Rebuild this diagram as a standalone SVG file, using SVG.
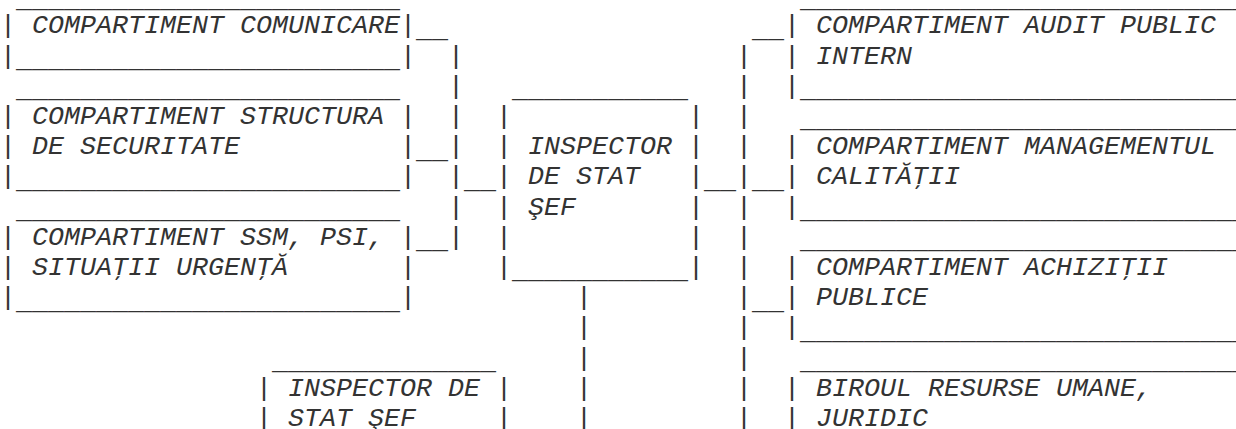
<svg xmlns="http://www.w3.org/2000/svg" width="1236" height="429" viewBox="0 0 1236 429" xml:space="preserve">
<style>
text { font-family: "Liberation Mono", "Courier New", monospace; font-size: 26.667px; fill: #333333; }
.l { font-style: italic; }
.u { transform: translate(0px, 3.5px); }
</style>
<rect width="1236" height="429" fill="#ffffff"/>
<g id="node-comunicare">
<text class="u" x="16" y="3.1">________________________</text>
<text x="0" y="33.3">|</text><text class="l" x="32" y="33.3">COMPARTIMENT COMUNICARE</text><text x="400" y="33.3">|</text>
<text x="0" y="63.5">|</text><text class="u" x="16" y="63.5">________________________</text><text x="400" y="63.5">|</text>
</g>
<g id="node-structura">
<text class="u" x="16" y="93.7">________________________</text>
<text x="0" y="123.9">|</text><text class="l" x="32" y="123.9">COMPARTIMENT STRUCTURA</text><text x="400" y="123.9">|</text>
<text x="0" y="154.1">|</text><text class="l" x="32" y="154.1">DE SECURITATE</text><text x="400" y="154.1">|</text>
<text x="0" y="184.3">|</text><text class="u" x="16" y="184.3">________________________</text><text x="400" y="184.3">|</text>
</g>
<g id="node-ssm">
<text class="u" x="16" y="214.5">________________________</text>
<text x="0" y="244.7">|</text><text class="l" x="32" y="244.7">COMPARTIMENT SSM, PSI,</text><text x="400" y="244.7">|</text>
<text x="0" y="274.9">|</text><text class="l" x="32" y="274.9">SITUAŢII URGENŢĂ</text><text x="400" y="274.9">|</text>
<text x="0" y="305.1">|</text><text class="u" x="16" y="305.1">________________________</text><text x="400" y="305.1">|</text>
</g>
<g id="node-inspector">
<text class="u" x="512" y="93.7">___________</text>
<text x="496" y="123.9">|</text><text x="688" y="123.9">|</text>
<text x="496" y="154.1">|</text><text class="l" x="528" y="154.1">INSPECTOR</text><text x="688" y="154.1">|</text>
<text x="496" y="184.3">|</text><text class="l" x="528" y="184.3">DE STAT</text><text x="688" y="184.3">|</text>
<text x="496" y="214.5">|</text><text class="l" x="528" y="214.5">ŞEF</text><text x="688" y="214.5">|</text>
<text x="496" y="244.7">|</text><text x="688" y="244.7">|</text>
<text x="496" y="274.9">|</text><text class="u" x="512" y="274.9">___________</text><text x="688" y="274.9">|</text>
</g>
<g id="node-inspector-2">
<text class="u" x="272" y="365.5">______________</text>
<text x="256" y="395.7">|</text><text class="l" x="288" y="395.7">INSPECTOR DE</text><text x="496" y="395.7">|</text>
<text x="256" y="425.9">|</text><text class="l" x="288" y="425.9">STAT ŞEF</text><text x="496" y="425.9">|</text>
</g>
<g id="node-audit">
<text class="u" x="800" y="3.1">____________________________</text>
<text x="784" y="33.3">|</text><text class="l" x="816" y="33.3">COMPARTIMENT AUDIT PUBLIC</text>
<text x="784" y="63.5">|</text><text class="l" x="816" y="63.5">INTERN</text>
<text x="784" y="93.7">|</text><text class="u" x="800" y="93.7">____________________________</text>
</g>
<g id="node-calitate">
<text class="u" x="800" y="123.9">____________________________</text>
<text x="784" y="154.1">|</text><text class="l" x="816" y="154.1">COMPARTIMENT MANAGEMENTUL</text>
<text x="784" y="184.3">|</text><text class="l" x="816" y="184.3">CALITĂŢII</text>
<text x="784" y="214.5">|</text><text class="u" x="800" y="214.5">____________________________</text>
</g>
<g id="node-achizitii">
<text class="u" x="800" y="244.7">____________________________</text>
<text x="784" y="274.9">|</text><text class="l" x="816" y="274.9">COMPARTIMENT ACHIZIŢII</text>
<text x="784" y="305.1">|</text><text class="l" x="816" y="305.1">PUBLICE</text>
<text x="784" y="335.3">|</text><text class="u" x="800" y="335.3">____________________________</text>
</g>
<g id="node-resurse">
<text class="u" x="800" y="365.5">____________________________</text>
<text x="784" y="395.7">|</text><text class="l" x="816" y="395.7">BIROUL RESURSE UMANE,</text>
<text x="784" y="425.9">|</text><text class="l" x="816" y="425.9">JURIDIC</text>
</g>
<g id="connectors">
<text class="u" x="416" y="33.3">__</text>
<text x="448" y="63.5">|</text>
<text x="448" y="93.7">|</text>
<text x="448" y="123.9">|</text>
<text class="u" x="416" y="154.1">__</text><text x="448" y="154.1">|</text>
<text x="448" y="184.3">|</text><text class="u" x="464" y="184.3">__</text>
<text x="448" y="214.5">|</text>
<text class="u" x="416" y="244.7">__</text><text x="448" y="244.7">|</text>
<text x="576" y="305.1">|</text>
<text x="576" y="335.3">|</text>
<text x="576" y="365.5">|</text>
<text x="576" y="395.7">|</text>
<text x="576" y="425.9">|</text>
<text class="u" x="752" y="33.3">__</text>
<text x="736" y="63.5">|</text>
<text x="736" y="93.7">|</text>
<text x="736" y="123.9">|</text>
<text x="736" y="154.1">|</text>
<text class="u" x="704" y="184.3">__</text><text x="736" y="184.3">|</text><text class="u" x="752" y="184.3">__</text>
<text x="736" y="214.5">|</text>
<text x="736" y="244.7">|</text>
<text x="736" y="274.9">|</text>
<text x="736" y="305.1">|</text><text class="u" x="752" y="305.1">__</text>
<text x="736" y="335.3">|</text>
<text x="736" y="365.5">|</text>
<text x="736" y="395.7">|</text>
<text x="736" y="425.9">|</text>
</g>
</svg>
